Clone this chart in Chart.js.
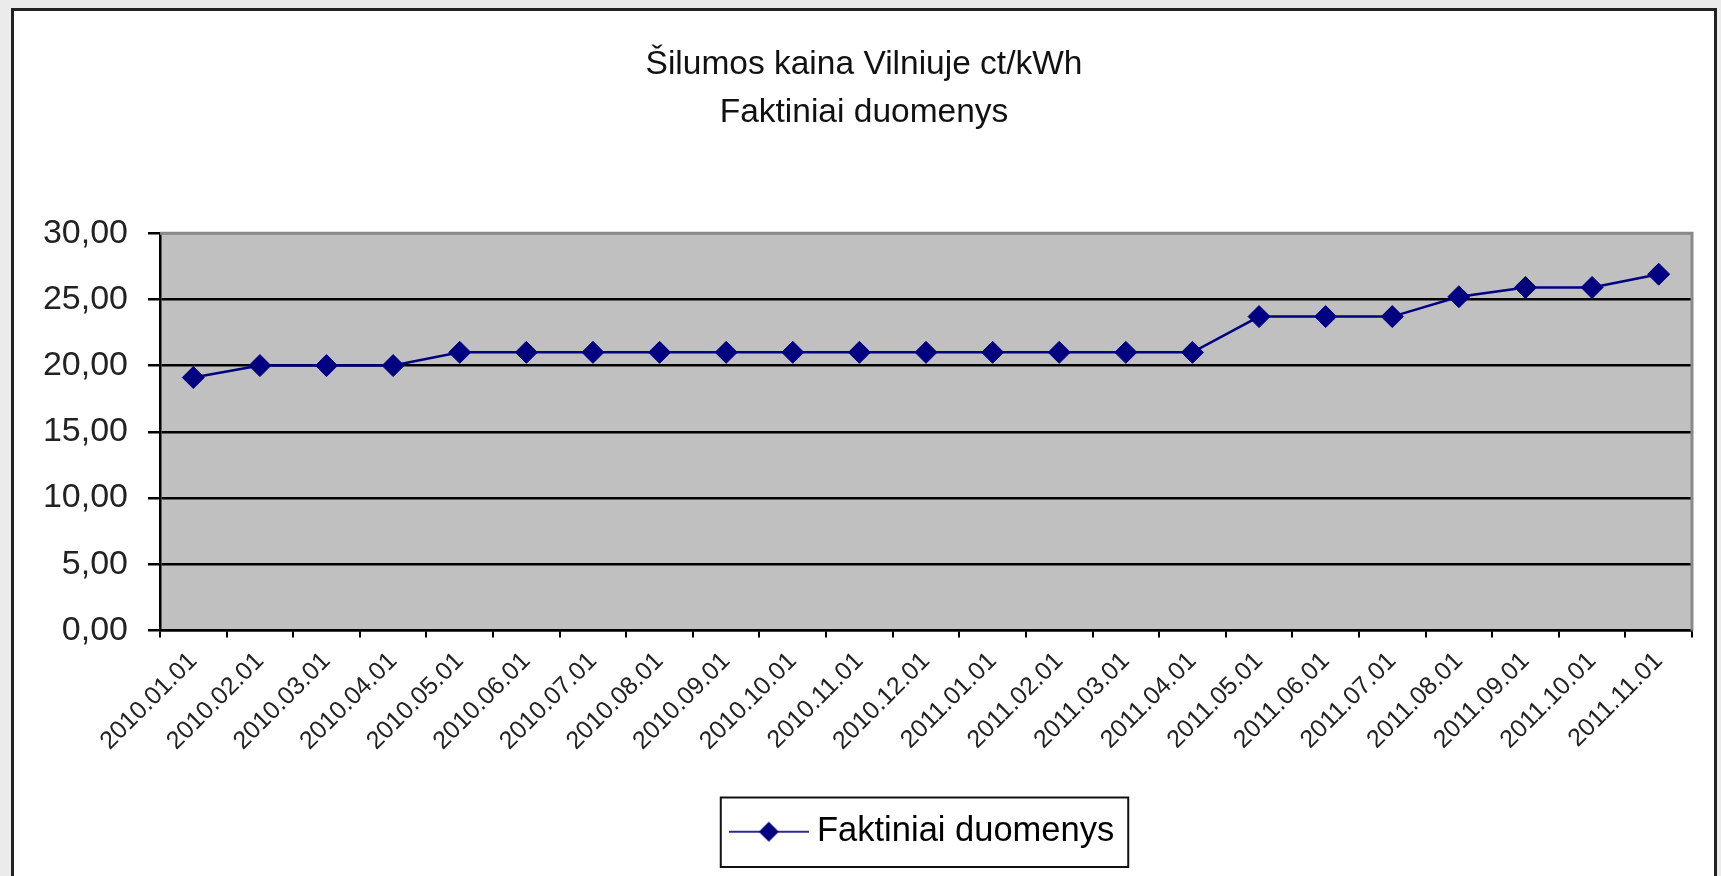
<!DOCTYPE html>
<html>
<head>
<meta charset="utf-8">
<script src="https://cdn.jsdelivr.net/npm/chart.js@4.4.1/dist/chart.umd.min.js"></script>
<style>
  html, body { margin: 0; padding: 0; width: 1721px; height: 876px; overflow: hidden; background: #ebebeb; }
  #frame { position: absolute; left: 11px; top: 8px; width: 1700px; height: 900px; border: 3px solid #222; background: #fff; }
  #c { position: absolute; left: 0; top: 0; }
</style>
</head>
<body>
<div id="frame"></div>
<canvas id="c" width="1721" height="876"></canvas>
<script>
// ---- data ----
const titleLines = ['Šilumos kaina Vilniuje ct/kWh', 'Faktiniai duomenys'];
const seriesName = 'Faktiniai duomenys';
const categories = [
  '2010.01.01','2010.02.01','2010.03.01','2010.04.01','2010.05.01','2010.06.01',
  '2010.07.01','2010.08.01','2010.09.01','2010.10.01','2010.11.01','2010.12.01',
  '2011.01.01','2011.02.01','2011.03.01','2011.04.01','2011.05.01','2011.06.01',
  '2011.07.01','2011.08.01','2011.09.01','2011.10.01','2011.11.01'
];
const values = [
  19.1, 20.0, 20.0, 20.0, 21.0, 21.0,
  21.0, 21.0, 21.0, 21.0, 21.0, 21.0,
  21.0, 21.0, 21.0, 21.0, 23.7, 23.7,
  23.7, 25.2, 25.9, 25.9, 26.9
];
const yMin = 0, yMax = 30, yStep = 5;
const formatTick = v => Number(v).toFixed(2).replace('.', ',');

// ---- styles ----
const NAVY = '#000080';
const FONT = "'Liberation Sans', Arial, sans-serif";

// legend symbol: line with diamond
const sym = document.createElement('canvas');
sym.width = 80; sym.height = 26;
(function () {
  const g = sym.getContext('2d');
  g.strokeStyle = '#2a2a90'; g.lineWidth = 2;
  g.beginPath(); g.moveTo(0, 13); g.lineTo(80, 13); g.stroke();
  g.fillStyle = NAVY;
  g.beginPath(); g.moveTo(40, 3); g.lineTo(50, 13); g.lineTo(40, 23); g.lineTo(30, 13); g.closePath(); g.fill();
})();

const plotBg = {
  id: 'plotBg',
  beforeDraw(chart) {
    const { ctx, chartArea: a } = chart;
    ctx.save();
    ctx.fillStyle = '#c0c0c0';
    ctx.fillRect(a.left, a.top, a.right - a.left, a.bottom - a.top);
    ctx.restore();
  },
  beforeDatasetsDraw(chart) {
    const { ctx, chartArea: a } = chart;
    ctx.save();
    ctx.strokeStyle = '#8a8a8a';
    ctx.lineWidth = 3;
    ctx.beginPath();
    ctx.moveTo(a.left, a.top); ctx.lineTo(a.right, a.top); ctx.lineTo(a.right, a.bottom);
    ctx.stroke();
    ctx.restore();
  },
  afterDraw(chart) {
    const lg = chart.legend;
    if (!lg || !lg.legendHitBoxes || !lg.legendHitBoxes.length) return;
    const hb = lg.legendHitBoxes[0];
    const { ctx } = chart;
    ctx.save();
    ctx.strokeStyle = '#111';
    ctx.lineWidth = 2;
    ctx.strokeRect(hb.left - 17, hb.top - 17, hb.width + 31, hb.height + 35);
    ctx.restore();
  }
};

new Chart(document.getElementById('c'), {
  type: 'line',
  data: {
    labels: categories,
    datasets: [{
      label: seriesName,
      data: values,
      borderColor: NAVY,
      backgroundColor: NAVY,
      borderWidth: 2.5,
      pointStyle: 'rectRot',
      pointRadius: 11,
      pointBorderWidth: 1,
      pointBackgroundColor: NAVY,
      pointBorderColor: NAVY,
      tension: 0,
      fill: false
    }]
  },
  options: {
    responsive: false,
    animation: false,
    devicePixelRatio: 1,
    layout: { padding: { left: 12, right: 5, top: 0, bottom: 17 } },
    plugins: {
      tooltip: { enabled: false },
      title: {
        display: true,
        text: titleLines,
        color: '#111',
        font: { family: FONT, size: 33.5, weight: 'normal', lineHeight: 1.45 },
        padding: { top: 40, bottom: 96 }
      },
      legend: {
        display: true,
        position: 'bottom',
        fullSize: false,
        labels: {
          usePointStyle: true,
          pointStyleWidth: 62,
          padding: 10,
          color: '#111',
          font: { family: FONT, size: 34.5 },
          generateLabels: (chart) => [{
            text: seriesName,
            pointStyle: sym,
            fillStyle: NAVY,
            strokeStyle: NAVY,
            lineWidth: 0,
            hidden: false,
            datasetIndex: 0
          }]
        }
      }
    },
    scales: {
      x: {
        type: 'category',
        offset: true,
        afterFit: s => { s.height = 174; },
        grid: {
          display: true,
          offset: true,
          drawOnChartArea: false,
          drawTicks: true,
          tickLength: 7,
          color: '#000',
          lineWidth: 2
        },
        border: { display: true, color: '#000', width: 2.5 },
        ticks: {
          autoSkip: false,
          minRotation: 45,
          maxRotation: 45,
          padding: 9,
          color: '#222',
          font: { family: FONT, size: 25 }
        }
      },
      y: {
        type: 'linear',
        position: 'left',
        min: yMin,
        max: yMax,
        afterFit: s => { s.width = 148; },
        grid: {
          display: true,
          drawOnChartArea: true,
          drawTicks: true,
          tickLength: 12,
          color: (c) => (c.tick && c.tick.value === yMax) ? '#8a8a8a' : '#000',
          tickColor: '#000',
          lineWidth: 2.5
        },
        border: { display: true, color: '#000', width: 2.5 },
        ticks: {
          stepSize: yStep,
          padding: 20,
          color: '#222',
          font: { family: FONT, size: 34 },
          callback: (v) => formatTick(v)
        }
      },
      yR: {
        type: 'linear',
        position: 'right',
        display: true,
        afterFit: s => { s.width = 24; },
        grid: { display: false, drawTicks: false },
        border: { display: false },
        ticks: { display: false }
      }
    }
  },
  plugins: [plotBg]
});
</script>
</body>
</html>
